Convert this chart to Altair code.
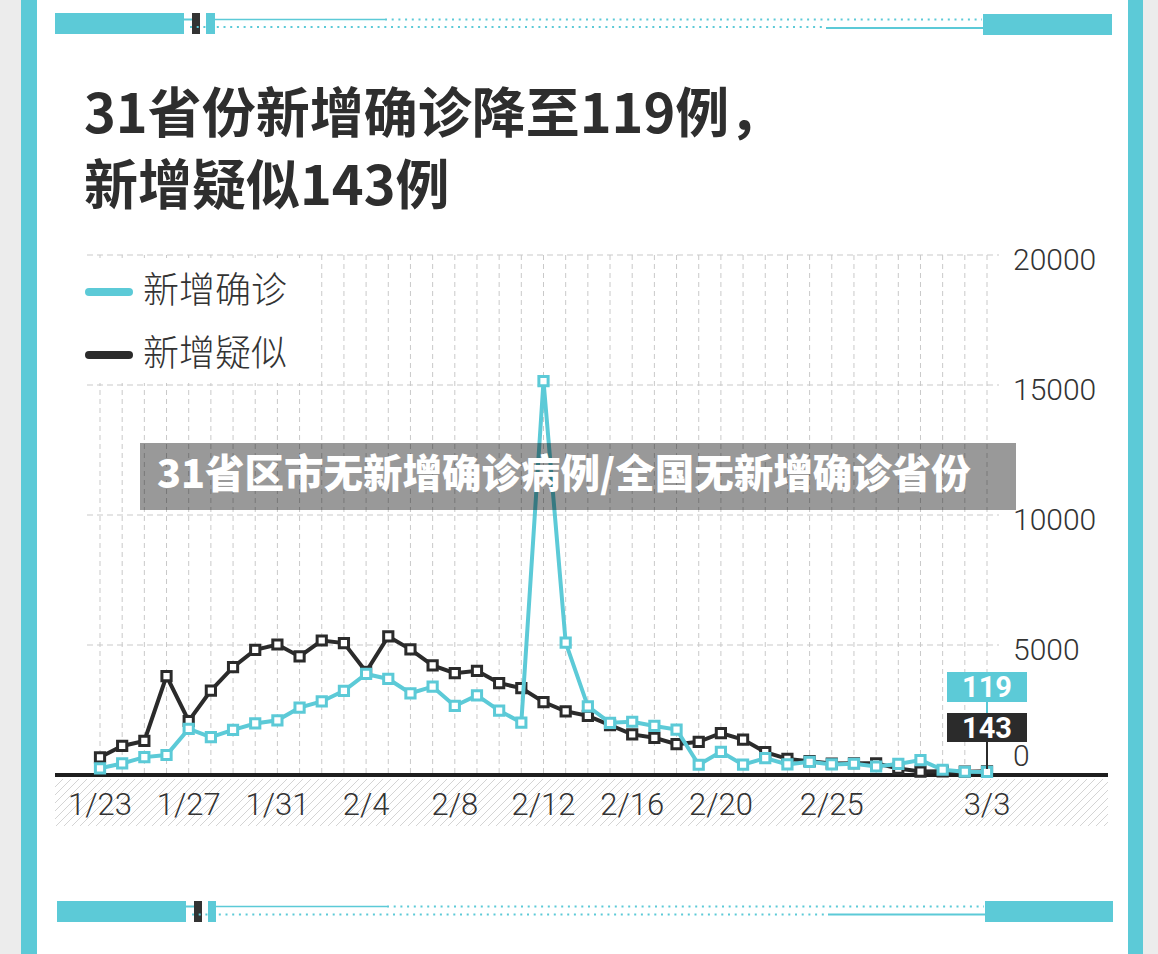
import altair as alt
import pandas as pd

# ---------------- data ----------------
dates = [f"{d.month}/{d.day}" for d in pd.date_range("2020-01-23", "2020-03-03")]
confirmed = [259, 444, 688, 769, 1771, 1459, 1737, 1982, 2102, 2590, 2829, 3235, 3887,
             3694, 3143, 3399, 2656, 3062, 2478, 2015, 15152, 5090, 2641, 2009, 2048,
             1886, 1749, 394, 889, 397, 648, 409, 508, 406, 433, 327, 427, 573, 202, 125, 119]
suspected = [680, 1118, 1309, 3806, 2077, 3248, 4148, 4812, 5019, 4562, 5173, 5072, 3971,
             5328, 4833, 4214, 3916, 4008, 3536, 3342, 2807, 2450, 2277, 1918, 1563,
             1432, 1185, 1277, 1614, 1361, 882, 620, 530, 439, 452, 450, 248, 132, 141, 129, 143]
tick_labels = ["1/23", "1/27", "1/31", "2/4", "2/8", "2/12", "2/16", "2/20", "2/25", "3/3"]
y_ticks = [0, 5000, 10000, 15000, 20000]
y_tick_labels = ["0", "5000", "10000", "15000", "20000"]
series_names = ["新增确诊", "新增疑似"]
title_lines = ["31省份新增确诊降至119例，", "新增疑似143例"]
banner_text = "31省区市无新增确诊病例/全国无新增确诊省份"

TEAL = "#5ccad7"
DARK = "#2b2b2b"
GRID = "#c9c9c9"
TXT = "#333333"
CJK = "Noto Sans CJK SC"
NUM = "Roboto"

df = pd.DataFrame({"day": list(range(len(dates))), "date": dates,
                   "confirmed": confirmed, "suspected": suspected})
ticks_df = pd.DataFrame({"date": tick_labels,
                         "day": [dates.index(t) for t in tick_labels]})
yt_df = pd.DataFrame({"v": y_ticks, "lab": y_tick_labels})

xs = alt.Scale(domain=[0, len(dates) - 1], range=[100, 987], nice=False, zero=False)
ys = alt.Scale(domain=[0, 20000], range=[775, 255], nice=False, zero=False)
X = lambda f="day:Q": alt.X(f, scale=xs, axis=None)
Y = lambda f: alt.Y(f, scale=ys, axis=None)

def px(v):
    return alt.value(v)

# ---------------- decorations (pixel space) ----------------
rects = pd.DataFrame([
    (0, 21, 0, 954, "#ececec"), (21, 37, 0, 954, TEAL),
    (1128, 1143, 0, 954, TEAL), (1143, 1158, 0, 954, "#ececec"),
    (55, 184, 13, 34, TEAL), (206, 215, 13, 34, TEAL), (983, 1112, 14, 35, TEAL),
    (57, 186, 901, 922, TEAL), (208, 216, 901, 922, TEAL), (985, 1113, 901, 922, TEAL),
], columns=["x", "x2", "y", "y2", "c"])
tabs = pd.DataFrame([(192, 200, 13, 34, "#333333"), (194, 202, 901, 922, "#333333")],
                    columns=["x", "x2", "y", "y2", "c"])
solid = pd.DataFrame([
    (184, 192, 19.5, 2), (215, 385, 19.5, 1.6), (826, 983, 28, 2),
    (186, 194, 906.5, 2), (216, 387, 906.5, 1.6), (828, 985, 914.5, 2),
], columns=["x", "x2", "y", "w"])
dotted = pd.DataFrame([
    (385, 982, 19.5), (190, 826, 27), (387, 984, 906.5), (192, 828, 914.5),
], columns=["x", "x2", "y"])

def pix_rect(d, **kw):
    return alt.Chart(d).mark_rect(**kw).encode(
        x=alt.X("x:Q", scale=None, axis=None), x2="x2:Q",
        y=alt.Y("y:Q", scale=None, axis=None), y2="y2:Q",
        color=alt.Color("c:N", scale=None, legend=None))

deco_rects = pix_rect(rects)
deco_tabs = pix_rect(tabs)
deco_solid = alt.Chart(solid).mark_rule(color=TEAL).encode(
    x=alt.X("x:Q", scale=None, axis=None), x2="x2:Q",
    y=alt.Y("y:Q", scale=None, axis=None),
    strokeWidth=alt.StrokeWidth("w:Q", scale=None, legend=None))
deco_dots = alt.Chart(dotted).mark_rule(color=TEAL, strokeWidth=2, strokeDash=[2, 4.7]).encode(
    x=alt.X("x:Q", scale=None, axis=None), x2="x2:Q",
    y=alt.Y("y:Q", scale=None, axis=None))

# hatch under the baseline
hx0, hx1, hy0, hy1, step = 55, 1108, 779, 826, 8
hh = hy1 - hy0
rows = []
s = hx0 - hh
while s < hx1:
    xa, ya = s, hy1
    xb, yb = s + hh, hy0
    if xa < hx0:
        ya = hy1 - (hx0 - xa); xa = hx0
    if xb > hx1:
        yb = hy0 + (xb - hx1); xb = hx1
    if xb > xa:
        rows.append((xa, ya, xb, yb))
    s += step
hatch_df = pd.DataFrame(rows, columns=["x", "y", "x2", "y2"])
hatch = alt.Chart(hatch_df).mark_rule(color="#d4d4d4", strokeWidth=1).encode(
    x=alt.X("x:Q", scale=None, axis=None), x2="x2:Q",
    y=alt.Y("y:Q", scale=None, axis=None), y2="y2:Q")

# ---------------- chart body ----------------
base = alt.Chart(df)
vgrid = base.mark_rule(color=GRID, strokeWidth=1, strokeDash=[5, 4]).encode(
    x=X(), y=px(255), y2=px(775))
hgrid = alt.Chart(yt_df[yt_df.v > 0]).mark_rule(color=GRID, strokeWidth=1, strokeDash=[6, 4]).encode(
    y=Y("v:Q"), x=px(87), x2=px(999))
legend_box = alt.Chart(pd.DataFrame({"a": [0]})).mark_rect(color="white").encode(
    x=px(78), x2=px(316), y=px(258), y2=px(383))
baseline = alt.Chart(pd.DataFrame({"v": [0]})).mark_rule(color="#1e1e1e", strokeWidth=4).encode(
    y=Y("v:Q"), x=px(55), x2=px(1108))

dark_line = base.mark_line(color=DARK, strokeWidth=4).encode(x=X(), y=Y("suspected:Q"))
dark_pts = base.mark_square(size=85, fill="white", stroke=DARK, strokeWidth=3, opacity=1).encode(
    x=X(), y=Y("suspected:Q"))
teal_line = base.mark_line(color=TEAL, strokeWidth=4).encode(x=X(), y=Y("confirmed:Q"))
teal_pts = base.mark_square(size=85, fill="white", stroke=TEAL, strokeWidth=3, opacity=1).encode(
    x=X(), y=Y("confirmed:Q"))

ylabels = alt.Chart(yt_df[yt_df.v > 0]).mark_text(
    align="left", baseline="middle", dy=6, fontSize=30, font=NUM, fontWeight=300, color=TXT
).encode(y=Y("v:Q"), x=px(1013), text="lab:N")
ylabel0 = alt.Chart(yt_df[yt_df.v == 0]).mark_text(
    align="left", baseline="middle", dy=-18, fontSize=30, font=NUM, fontWeight=300, color=TXT
).encode(y=Y("v:Q"), x=px(1013), text="lab:N")
xlabels = alt.Chart(ticks_df).mark_text(
    align="center", baseline="middle", fontSize=31, font=NUM, fontWeight=300, color=TXT
).encode(x=X(), y=px(806), text="date:N")

# end labels
last = df.iloc[[-1]]
box_t = alt.Chart(last).mark_rect(color=TEAL).encode(x=px(947), x2=px(1027), y=px(672), y2=px(702))
box_d = alt.Chart(last).mark_rect(color=DARK).encode(x=px(947), x2=px(1027), y=px(713), y2=px(742))
conn_t = alt.Chart(last).mark_rule(color=TEAL, strokeWidth=2).encode(x=X(), y=px(702), y2=px(713))
conn_d = alt.Chart(last).mark_rule(color=DARK, strokeWidth=2).encode(x=X(), y=px(742), y2=px(769))
lab_t = alt.Chart(last).mark_text(fontSize=29, font=NUM, fontWeight="bold", color="white",
                                  baseline="middle").encode(x=X(), y=px(688), text="confirmed:Q")
lab_d = alt.Chart(last).mark_text(fontSize=29, font=NUM, fontWeight="bold", color="white",
                                  baseline="middle").encode(x=X(), y=px(729), text="suspected:Q")

# legend
leg_df = pd.DataFrame({"name": series_names, "c": [TEAL, DARK], "yy": [292, 355]})
leg_lines = alt.Chart(leg_df).mark_rule(strokeWidth=8, strokeCap="round").encode(
    x=px(89), x2=px(129), y=alt.Y("yy:Q", scale=None, axis=None),
    color=alt.Color("c:N", scale=None, legend=None))
leg_text = alt.Chart(leg_df).mark_text(align="left", baseline="middle", fontSize=36, font=CJK,
                                       fontWeight=300, color=TXT).encode(
    x=px(143), y=alt.Y("yy:Q", scale=None, axis=None), text="name:N")

# title
title_df = pd.DataFrame({"t": title_lines, "yy": [117, 189]})
title = alt.Chart(title_df).mark_text(align="left", baseline="middle", fontSize=54, font=CJK,
                                      fontWeight="bold", color="#2e2e2e").encode(
    x=px(84), y=alt.Y("yy:Q", scale=None, axis=None), text="t:N")

# overlay banner
ban_df = pd.DataFrame({"t": [banner_text]})
ban_rect = alt.Chart(ban_df).mark_rect(color="black", opacity=0.4).encode(
    x=px(140), x2=px(1016), y=px(443), y2=px(510))
ban_text = alt.Chart(ban_df).mark_text(align="left", baseline="middle", fontSize=39.5, font=CJK,
                                       fontWeight=900, color="white").encode(
    x=px(157), y=px(476), text="t:N")

chart = alt.layer(
    deco_rects, deco_solid, deco_tabs, deco_dots,
    title,
    vgrid, hgrid, legend_box, leg_lines, leg_text,
    hatch, baseline,
    dark_line, dark_pts, teal_line, teal_pts,
    ylabels, ylabel0, xlabels,
    conn_t, conn_d, box_t, box_d, lab_t, lab_d,
    ban_rect, ban_text,
).resolve_scale(
    x="independent", y="independent", color="independent", strokeWidth="independent"
).properties(
    width=1158, height=954, padding=0,
    autosize=alt.AutoSizeParams(type="none"),
    background="white",
).configure_view(stroke=None)

chart.save("out.html", embed_options={"renderer": "svg", "actions": False})
